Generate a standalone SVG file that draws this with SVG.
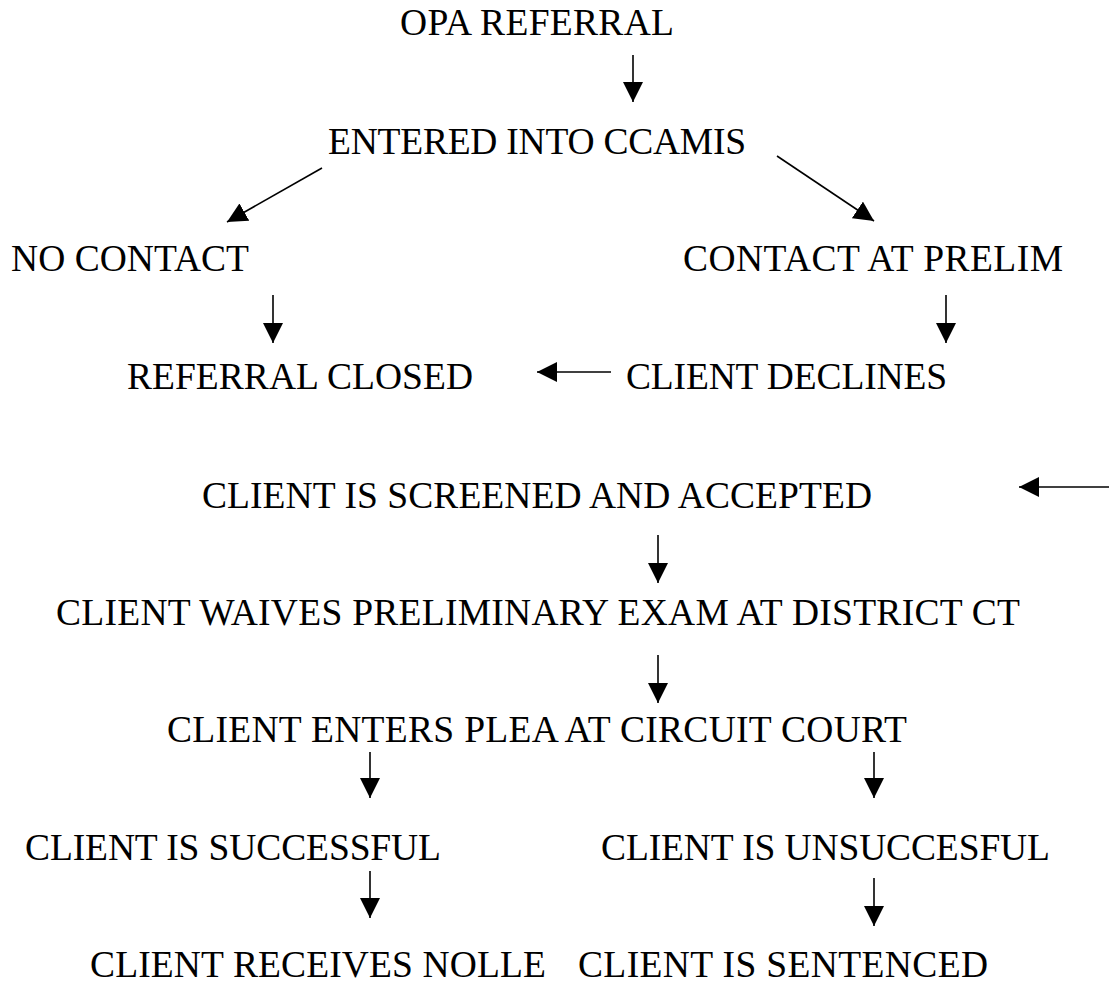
<svg xmlns="http://www.w3.org/2000/svg" width="1109" height="983" viewBox="0 0 1109 983">
<style>
text{font-family:"Liberation Serif","Times New Roman",serif;font-size:37.5px;fill:#000}
.c line{stroke:#000;stroke-width:1.6;marker-end:url(#ah)}
</style>
<defs>
<marker id="ah" markerUnits="userSpaceOnUse" markerWidth="20" markerHeight="20" refX="20" refY="10" orient="auto" viewBox="0 0 20 20">
<path d="M0,0 L20,10 L0,20 z" fill="#000"/>
</marker>
</defs>
<rect width="1109" height="983" fill="#fff"/>
<g id="n-opa"><text x="400" y="35" textLength="274" lengthAdjust="spacing">OPA REFERRAL</text></g>
<g id="n-ccamis"><text x="328" y="154" textLength="418" lengthAdjust="spacing">ENTERED INTO CCAMIS</text></g>
<g id="n-nocontact"><text x="11" y="271" textLength="238" lengthAdjust="spacing">NO CONTACT</text></g>
<g id="n-contact"><text x="683" y="271" textLength="380" lengthAdjust="spacing">CONTACT AT PRELIM</text></g>
<g id="n-closed"><text x="127" y="389" textLength="346" lengthAdjust="spacing">REFERRAL CLOSED</text></g>
<g id="n-declines"><text x="626" y="389" textLength="321" lengthAdjust="spacing">CLIENT DECLINES</text></g>
<g id="n-screened"><text x="202" y="508" textLength="670" lengthAdjust="spacing">CLIENT IS SCREENED AND ACCEPTED</text></g>
<g id="n-waives"><text x="56" y="625" textLength="964" lengthAdjust="spacing">CLIENT WAIVES PRELIMINARY EXAM AT DISTRICT CT</text></g>
<g id="n-plea"><text x="167" y="742" textLength="740" lengthAdjust="spacing">CLIENT ENTERS PLEA AT CIRCUIT COURT</text></g>
<g id="n-success"><text x="25" y="860" textLength="416" lengthAdjust="spacing">CLIENT IS SUCCESSFUL</text></g>
<g id="n-unsuccess"><text x="601" y="860" textLength="449" lengthAdjust="spacing">CLIENT IS UNSUCCESFUL</text></g>
<g id="n-nolle"><text x="90" y="977" textLength="456" lengthAdjust="spacing">CLIENT RECEIVES NOLLE</text></g>
<g id="n-sentenced"><text x="578" y="977" textLength="410" lengthAdjust="spacing">CLIENT IS SENTENCED</text></g>
<g id="connectors" class="c">
<line x1="633" y1="55" x2="633" y2="102"/>
<line x1="322" y1="168" x2="227" y2="222"/>
<line x1="777" y1="156" x2="874" y2="221"/>
<line x1="273" y1="295" x2="273" y2="343"/>
<line x1="946" y1="295" x2="946" y2="343"/>
<line x1="611" y1="372" x2="537" y2="372"/>
<line x1="1109" y1="487" x2="1019" y2="487"/>
<line x1="658" y1="535" x2="658" y2="583"/>
<line x1="658" y1="655" x2="658" y2="703"/>
<line x1="370" y1="752" x2="370" y2="798"/>
<line x1="874" y1="752" x2="874" y2="798"/>
<line x1="370" y1="871" x2="370" y2="918"/>
<line x1="874" y1="878" x2="874" y2="926"/>
</g>
</svg>
